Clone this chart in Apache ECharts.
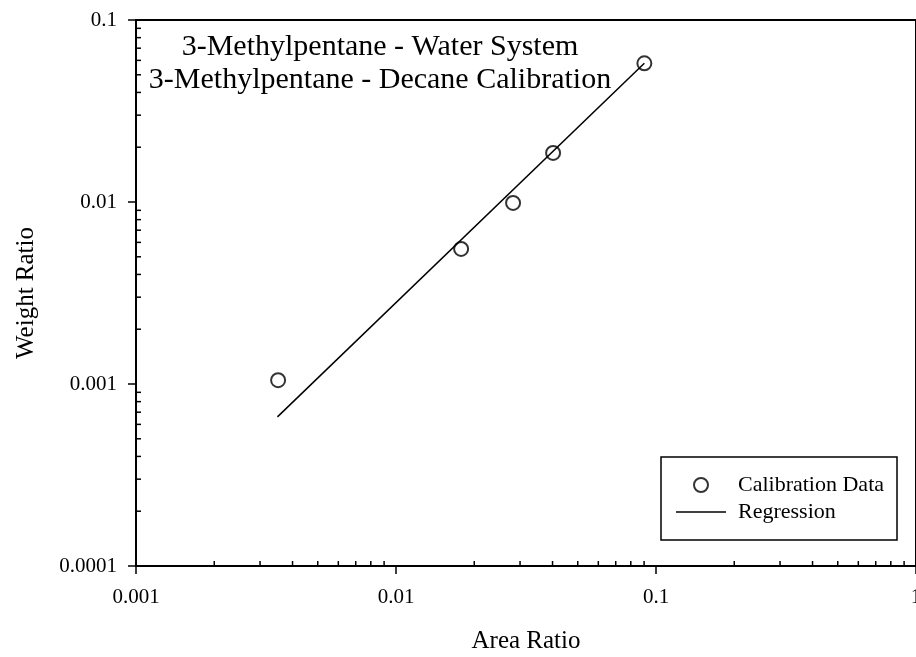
<!DOCTYPE html>
<html>
<head>
<meta charset="utf-8">
<script src="https://cdn.jsdelivr.net/npm/echarts@6/dist/echarts.min.js"></script>
<style>
  html, body { margin: 0; padding: 0; background: #fff; }
  #chart { width: 916px; height: 657px; }
</style>
</head>
<body>
<div id="chart"></div>
<script>
// Calibration measurements (area ratio vs weight ratio)
const areaRatio = [0.00352, 0.0178, 0.0282, 0.0402, 0.0902];
const weightRatio = [0.00105, 0.00552, 0.00988, 0.0186, 0.0578];

// Regression line end points
const regArea = [0.0035, 0.0902];
const regWeight = [0.00066, 0.0579];

// Axis ranges and minor tick values
const xRange = [0.001, 1];
const yRange = [0.0001, 0.1];
const xMinorTicks = [
  0.002, 0.003, 0.004, 0.005, 0.006, 0.007, 0.008, 0.009,
  0.02, 0.03, 0.04, 0.05, 0.06, 0.07, 0.08, 0.09,
  0.2, 0.3, 0.4, 0.5, 0.6, 0.7, 0.8, 0.9
];
const yMinorTicks = [
  0.0002, 0.0003, 0.0004, 0.0005, 0.0006, 0.0007, 0.0008, 0.0009,
  0.002, 0.003, 0.004, 0.005, 0.006, 0.007, 0.008, 0.009,
  0.02, 0.03, 0.04, 0.05, 0.06, 0.07, 0.08, 0.09
];

const titleLines = [
  '3-Methylpentane - Water System',
  '3-Methylpentane - Decane Calibration'
];

const FONT = '"Liberation Serif", "Times New Roman", serif';

const chart = echarts.init(document.getElementById('chart'), null, { renderer: 'canvas' });

const fmt = v => String(Number(Number(v).toPrecision(6)));

const option = {
  backgroundColor: '#fff',
  animation: false,
  grid: {
    left: 136, top: 20, right: 0, bottom: 91,
    containLabel: false,
    outerBoundsMode: 'none',
    show: true, borderColor: '#000', borderWidth: 2, backgroundColor: 'transparent'
  },
  xAxis: {
    type: 'log', logBase: 10, min: xRange[0], max: xRange[1],
    name: 'Area Ratio', nameLocation: 'middle', nameGap: 63,
    nameTextStyle: { fontFamily: FONT, fontSize: 25, color: '#000' },
    axisLine: { lineStyle: { color: '#000', width: 2 } },
    axisTick: { show: true, inside: false, length: 8, lineStyle: { color: '#000', width: 1.5 } },
    axisLabel: { fontFamily: FONT, fontSize: 21, color: '#000', margin: 21, formatter: fmt },
    splitLine: { show: false },
    minorTick: { show: false }
  },
  yAxis: {
    type: 'log', logBase: 10, min: yRange[0], max: yRange[1],
    name: 'Weight Ratio', nameLocation: 'middle', nameGap: 97, nameRotate: 90,
    nameTextStyle: { fontFamily: FONT, fontSize: 25, color: '#000' },
    axisLine: { lineStyle: { color: '#000', width: 2 } },
    axisTick: { show: true, inside: false, length: 8, lineStyle: { color: '#000', width: 1.5 } },
    axisLabel: { fontFamily: FONT, fontSize: 21, color: '#000', margin: 19, formatter: fmt },
    splitLine: { show: false },
    minorTick: { show: false }
  },
  legend: {
    data: [
      { name: 'Calibration Data', icon: 'emptyCircle' },
      { name: 'Regression', icon: 'path://M0,0 L50,0 L50,1.5 L0,1.5 Z' }
    ],
    orient: 'vertical',
    left: 661, top: 457,
    itemWidth: 50, itemHeight: 14, itemGap: 5,
    padding: [17, 13, 17, 15],
    borderColor: '#000', borderWidth: 1.5,
    backgroundColor: '#fff',
    textStyle: { fontFamily: FONT, fontSize: 22, color: '#000', padding: [0, 0, 0, 7] }
  },
  graphic: titleLines.map((t, i) => ({
    type: 'text',
    x: 380, y: 47 + i * 33,
    style: {
      text: t, fill: '#000', font: '30px ' + FONT,
      textAlign: 'center', textVerticalAlign: 'middle'
    }
  })),
  series: [
    {
      name: 'Regression',
      type: 'line',
      data: regArea.map((x, i) => [x, regWeight[i]]),
      symbol: 'none',
      color: '#000',
      lineStyle: { color: '#000', width: 1.5 },
      silent: true
    },
    {
      name: 'Calibration Data',
      type: 'scatter',
      data: areaRatio.map((x, i) => [x, weightRatio[i]]),
      symbol: 'emptyCircle',
      symbolSize: 14,
      color: '#000',
      itemStyle: { color: '#000', borderColor: '#000', borderWidth: 1.5 },
      silent: true
    },
    {
      // inward minor ticks along the bottom axis
      type: 'custom',
      silent: true,
      data: xMinorTicks.map(v => [v, yRange[0]]),
      renderItem: (params, api) => {
        const p = api.coord([api.value(0), api.value(1)]);
        return {
          type: 'line',
          shape: { x1: p[0], y1: p[1], x2: p[0], y2: p[1] - 5 },
          style: { stroke: '#000', lineWidth: 1.5 }
        };
      }
    },
    {
      // inward minor ticks along the left axis
      type: 'custom',
      silent: true,
      data: yMinorTicks.map(v => [xRange[0], v]),
      renderItem: (params, api) => {
        const p = api.coord([api.value(0), api.value(1)]);
        return {
          type: 'line',
          shape: { x1: p[0], y1: p[1], x2: p[0] + 5, y2: p[1] },
          style: { stroke: '#000', lineWidth: 1.5 }
        };
      }
    }
  ]
};

chart.setOption(option);
</script>
</body>
</html>
